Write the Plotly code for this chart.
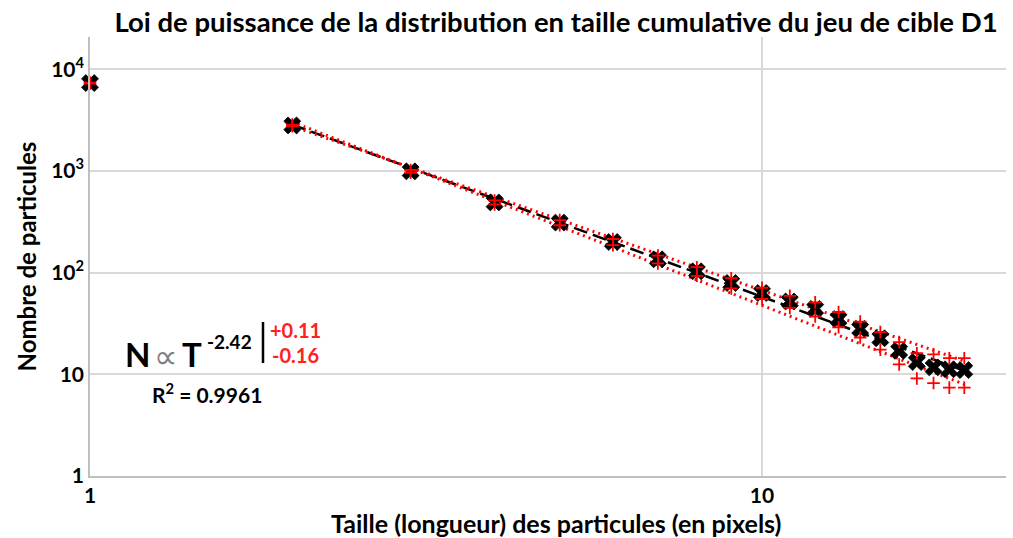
import numpy as np
import plotly.graph_objects as go

# Cumulative size distribution of target set D1
taille = [1, 2, 3, 4, 5, 6, 7, 8, 9, 10, 11, 12, 13, 14, 15, 16, 17, 18, 19, 20]
nombre = [7300, 2800, 990, 490, 310, 200, 135, 103, 79, 63, 52, 44, 35, 28, 22.6, 17, 13.2, 11.7, 11.2, 11]
# Poisson-style bounds on each count
borne_haute = [7385, 2853, 1021, 512, 328, 214, 147, 113, 88, 71, 59, 51, 41, 33, 26, 20.7, 16.1, 15.7, 14.4, 14.4]
borne_basse = [7215, 2747, 959, 468, 292, 186, 123, 93, 70, 55, 45, 37, 29, 23, 17.5, 12.5, 9.1, 8.2, 7.4, 7.4]

# Power-law fit  N ∝ T^exposant  (fit range T >= 2)
exposant = -2.42
err_plus = 0.11
err_moins = 0.16
r2 = 0.9961
fit_debut, fit_fin = 2, 20

FONT = "Lato"

x = np.array(taille, dtype=float)
y = np.array(nombre, dtype=float)
yh = np.array(borne_haute, dtype=float)
yb = np.array(borne_basse, dtype=float)
sel = (x >= fit_debut) & (x <= fit_fin)


def prefacteur(xs, ys, k):
    # least squares in log space with a fixed exponent
    return 10 ** np.mean(np.log10(ys) - k * np.log10(xs))


xf = np.array([fit_debut, fit_fin], dtype=float)
c_fit = prefacteur(x[sel], y[sel], exposant)
c_haut = prefacteur(x[sel], yh[sel], exposant + err_plus)
c_bas = prefacteur(x[sel], yb[sel], exposant - err_moins)

fig = go.Figure()

# fitted power law and its bounds
fig.add_trace(go.Scatter(x=xf, y=c_fit * xf ** exposant, mode="lines",
                         line=dict(color="black", width=2.5, dash="14px,6px"),
                         hoverinfo="skip"))
fig.add_trace(go.Scatter(x=xf, y=c_haut * xf ** (exposant + err_plus), mode="lines",
                         line=dict(color="#ff0000", width=3, dash="2px,4px"),
                         hoverinfo="skip"))
fig.add_trace(go.Scatter(x=xf, y=c_bas * xf ** (exposant - err_moins), mode="lines",
                         line=dict(color="#ff0000", width=3, dash="2px,4px"),
                         hoverinfo="skip"))

# measured counts
fig.add_trace(go.Scatter(x=x, y=y, mode="markers", cliponaxis=False,
                         marker=dict(symbol="x", size=15, color="black",
                                     line=dict(color="black", width=0.8))))
# bounds
fig.add_trace(go.Scatter(x=np.concatenate([x, x]), y=np.concatenate([yh, yb]),
                         mode="markers", cliponaxis=False,
                         marker=dict(symbol="cross-thin", size=9,
                                     line=dict(color="#ff0000", width=1.8))))

# plot area in pixels
W, H = 1013, 538
L, R, T, B = 90, 1006, 37, 476


def px(xp):
    return (xp - L) / (R - L)


def py(yp):
    return (B - yp) / (B - T)


ann = [
    dict(text="<b>N</b>", x=px(137), y=py(354), size=33, color="black", family=FONT),
    dict(text="∝", x=px(166), y=py(356), size=33, color="#808080", family="DejaVu Sans"),
    dict(text="<b>T</b>", x=px(192), y=py(354), size=33, color="black", family=FONT),
    dict(text="<b>%.2f</b>" % exposant, x=px(229), y=py(341), size=19, color="black", family=FONT),
    dict(text="<b>+%.2f</b>" % err_plus, x=px(295), y=py(330), size=20, color="#ff2020", family=FONT),
    dict(text="<b>-%.2f</b>" % err_moins, x=px(295), y=py(355), size=20, color="#ff2020", family=FONT),
    dict(text="<b>R<sup>2</sup> = %.4f</b>" % r2, x=px(207), y=py(393), size=21, color="black", family=FONT),
    dict(text="<b>Taille (longueur) des particules (en pixels)</b>", x=px(556), y=py(523),
         size=25, color="black", family=FONT),
]
for a in ann:
    fig.add_annotation(text=a["text"], x=a["x"], y=a["y"], xref="paper", yref="paper",
                       showarrow=False, xanchor="center", yanchor="middle",
                       font=dict(family=a["family"], size=a["size"], color=a["color"]))

fig.add_shape(type="line", xref="paper", yref="paper",
              x0=px(263), x1=px(263), y0=py(322), y1=py(363),
              line=dict(color="black", width=2.5))

fig.update_layout(
    width=W, height=H,
    margin=dict(l=L, r=W - R, t=T, b=H - B),
    paper_bgcolor="white", plot_bgcolor="white",
    showlegend=False,
    font=dict(family=FONT, color="black"),
    title=dict(text="<b>Loi de puissance de la distribution en taille cumulative du jeu de cible D1</b>",
               x=(556) / W, xanchor="center", y=1 - 22 / H, yanchor="middle",
               font=dict(family=FONT, size=27.5, color="black")),
)

fig.update_xaxes(type="log", range=[0, (R - L) / 672],
                 tickvals=[1, 10], ticktext=["<b>1</b>", "<b>10</b>"],
                 tickfont=dict(family=FONT, size=21, color="black"),
                 showgrid=True, gridcolor="#d9d9d9", gridwidth=2,
                 showline=True, linecolor="#bfbfbf", linewidth=1.5,
                 ticks="", zeroline=False)
fig.update_yaxes(type="log", range=[0, (B - T) / 101.7],
                 tickvals=[1, 10, 100, 1000, 10000],
                 ticktext=["<b>1</b>", "<b>10</b>", "<b>10<sup>2</sup></b>",
                           "<b>10<sup>3</sup></b>", "<b>10<sup>4</sup></b>"],
                 tickfont=dict(family=FONT, size=21, color="black"),
                 showgrid=True, gridcolor="#d9d9d9", gridwidth=2,
                 showline=True, linecolor="#bfbfbf", linewidth=1.5,
                 ticks="", zeroline=False,
                 title=dict(text="<b>Nombre de particules</b>",
                            font=dict(family=FONT, size=24, color="black"), standoff=8))

fig.write_html("out.html")
